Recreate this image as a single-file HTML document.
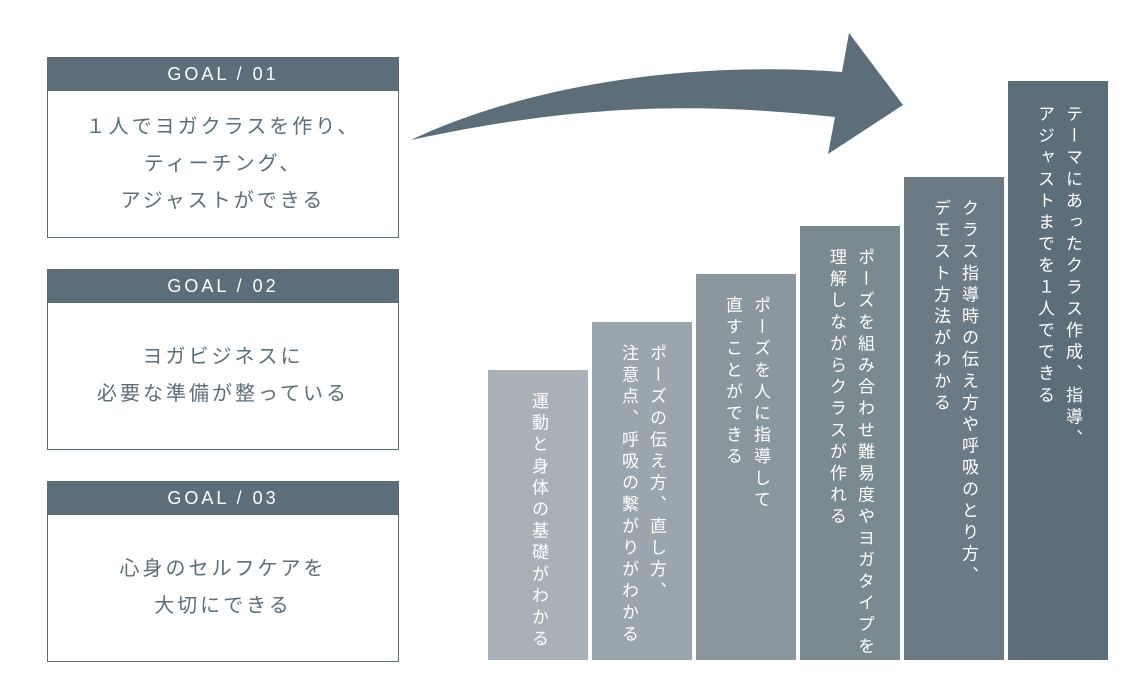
<!DOCTYPE html>
<html><head><meta charset="utf-8"><style>
body{margin:0;width:1140px;height:700px;background:#fff;position:relative;overflow:hidden;font-family:"Liberation Sans","Noto Sans CJK JP",sans-serif;}
.box{position:absolute;left:47px;width:352px;border:1px solid #5c6e7a;box-sizing:border-box;}
.hd{height:33px;background:#5b6e79;color:#fff;text-align:center;font-size:18px;line-height:33px;letter-spacing:3px;}
.bd{display:flex;align-items:center;justify-content:center;text-align:center;color:#5b6e79;font-size:20px;line-height:37px;letter-spacing:3px;}
.bar{position:absolute;width:100px;bottom:40px;color:#fff;writing-mode:vertical-rl;font-size:17px;letter-spacing:4.6px;line-height:28px;box-sizing:border-box;display:flex;align-items:center;}
.bar span{display:block}
</style></head><body>
<div class="box" style="top:57px;height:181px"><div class="hd">GOAL / 01</div><div class="bd" style="height:146px">１人でヨガクラスを作り、<br>ティーチング、<br>アジャストができる</div></div>
<div class="box" style="top:269px;height:181px"><div class="hd">GOAL / 02</div><div class="bd" style="height:146px">ヨガビジネスに<br>必要な準備が整っている</div></div>
<div class="box" style="top:481px;height:181px"><div class="hd">GOAL / 03</div><div class="bd" style="height:146px">心身のセルフケアを<br>大切にできる</div></div>
<svg style="position:absolute;left:0;top:0" width="1140" height="700"><path d="M411,140 C520,88 680,60 842,72 L849,33 L903,105 L828,154 L835,117 C680,100 560,108 411,140 Z" fill="#5b6e79"/></svg>
<div class="bar" style="left:488px;top:370px;background:#a9b1b8;padding-top:22px"><span>運動と身体の基礎がわかる</span></div>
<div class="bar" style="left:592px;top:322px;background:#9aa5ad;padding-top:22px"><span>ポーズの伝え方、直し方、<br>注意点、呼吸の繋がりがわかる</span></div>
<div class="bar" style="left:696px;top:274px;background:#8a979f;padding-top:22px"><span>ポーズを人に指導して<br>直すことができる</span></div>
<div class="bar" style="left:800px;top:226px;background:#7b8990;padding-top:22px"><span>ポーズを組み合わせ難易度やヨガタイプを<br>理解しながらクラスが作れる</span></div>
<div class="bar" style="left:904px;top:177px;background:#6b7a85;padding-top:22px"><span>クラス指導時の伝え方や呼吸のとり方、<br>デモスト方法がわかる</span></div>
<div class="bar" style="left:1008px;top:81px;background:#5b6e79;padding-top:24px"><span>テーマにあったクラス作成、指導、<br>アジャストまでを１人でできる</span></div>
</body></html>
